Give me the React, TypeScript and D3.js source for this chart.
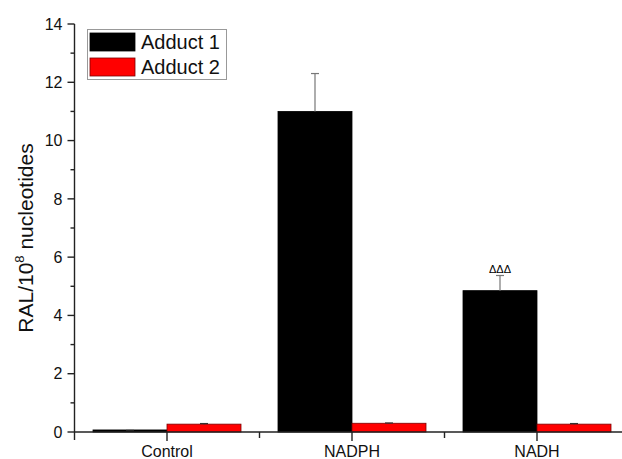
import * as d3 from "d3"

const categories = ["Control", "NADPH", "NADH"]
const series = ["Adduct 1", "Adduct 2"]
const adduct1 = [0.07, 11.0, 4.85]
const adduct1Err = [0.01, 1.3, 0.52]
const adduct2 = [0.27, 0.3, 0.27]
const adduct2Err = [0.02, 0.01, 0.02]
const yTicks = [0, 2, 4, 6, 8, 10, 12, 14]
const yMinor = [1, 3, 5, 7, 9, 11, 13]
const marks = ["", "", "ΔΔΔ"]

const W = 622
const H = 459
const FONT = "Liberation Sans, Arial, sans-serif"
const COLORS = ["#000000", "#ff0000"]

export default function App() {
  const x = d3.scaleBand<string>().domain(categories).range([74.5, 629.5]).paddingInner(0.2).paddingOuter(0.1)
  const xs = d3.scaleBand<string>().domain(series).range([0, x.bandwidth()])
  const y = d3.scaleLinear().domain([0, 14]).range([432, 24])
  const x0 = 74.5
  const step = x.step()

  const values = [adduct1, adduct2]
  const errs = [adduct1Err, adduct2Err]

  return (
    <svg width={W} height={H} style={{ position: "absolute", left: 0, top: 0, background: "#fff" }} fontFamily={FONT}>
      {/* bars */}
      {series.map((s, si) =>
        categories.map((c, ci) => {
          const bx = (x(c) ?? 0) + (xs(s) ?? 0)
          const v = values[si][ci]
          return (
            <rect key={s + c} x={bx} y={y(v)} width={xs.bandwidth()} height={y(0) - y(v)}
              fill={COLORS[si]} stroke={si === 1 ? "#7a0000" : "#000"} strokeWidth={0.8} />
          )
        })
      )}

      {/* error bars (upper only) */}
      {series.map((s, si) =>
        categories.map((c, ci) => {
          const cx = (x(c) ?? 0) + (xs(s) ?? 0) + xs.bandwidth() / 2
          const v = values[si][ci]
          const top = y(v + errs[si][ci])
          return (
            <g key={"e" + s + c} stroke={si === 0 ? "#777" : "#333"} strokeWidth={1.2}>
              <line x1={cx} x2={cx} y1={y(v)} y2={top} />
              <line x1={cx - 4} x2={cx + 4} y1={top} y2={top} />
            </g>
          )
        })
      )}

      {/* significance marks */}
      {categories.map((c, ci) => marks[ci] ? (
        <text key={"m" + c} x={(x(c) ?? 0) + (xs(series[0]) ?? 0) + xs.bandwidth() / 2}
          y={y(adduct1[ci] + adduct1Err[ci]) - 3} textAnchor="middle" fontSize={11} fill="#000">
          {marks[ci]}
        </text>
      ) : null)}

      {/* y axis */}
      <line x1={x0} x2={x0} y1={y(14)} y2={y(0) + 8} stroke="#222" strokeWidth={1.4} />
      {yTicks.map((t) => (
        <g key={"yt" + t}>
          <line x1={x0 - 7} x2={x0} y1={y(t)} y2={y(t)} stroke="#222" strokeWidth={1.4} />
          <text x={x0 - 12} y={y(t)} dy="0.36em" textAnchor="end" fontSize={16} fill="#111">{t}</text>
        </g>
      ))}
      {yMinor.map((t) => (
        <line key={"ym" + t} x1={x0 - 4} x2={x0} y1={y(t)} y2={y(t)} stroke="#222" strokeWidth={1.4} />
      ))}

      {/* x axis */}
      <line x1={x0} x2={W} y1={y(0)} y2={y(0)} stroke="#222" strokeWidth={1.4} />
      {categories.map((c) => {
        const cx = (x(c) ?? 0) + x.bandwidth() / 2
        return (
          <g key={"xt" + c}>
            <line x1={cx} x2={cx} y1={y(0)} y2={y(0) + 9} stroke="#222" strokeWidth={1.4} />
            <text x={cx} y={457} textAnchor="middle" fontSize={16} fill="#111">{c}</text>
          </g>
        )
      })}
      {[1, 2].map((i) => (
        <line key={"xm" + i} x1={x0 + i * step} x2={x0 + i * step} y1={y(0)} y2={y(0) + 6} stroke="#222" strokeWidth={1.4} />
      ))}

      {/* y title */}
      <text transform={`translate(33,${238}) rotate(-90)`} textAnchor="middle" fontSize={21} fill="#111">
        RAL/10<tspan fontSize={13} dy={-9}>8</tspan><tspan dy={9}> nucleotides</tspan>
      </text>

      {/* legend */}
      <rect x={87.5} y={29.5} width={139} height={50} fill="#fff" stroke="#999" strokeWidth={1} />
      {series.map((s, si) => (
        <g key={"lg" + s}>
          <rect x={90} y={33 + si * 25} width={45} height={18} fill={COLORS[si]}
            stroke={si === 1 ? "#7a0000" : "#000"} strokeWidth={0.8} />
          <text x={141} y={49 + si * 25} fontSize={20} fill="#111">{s}</text>
        </g>
      ))}
    </svg>
  )
}
